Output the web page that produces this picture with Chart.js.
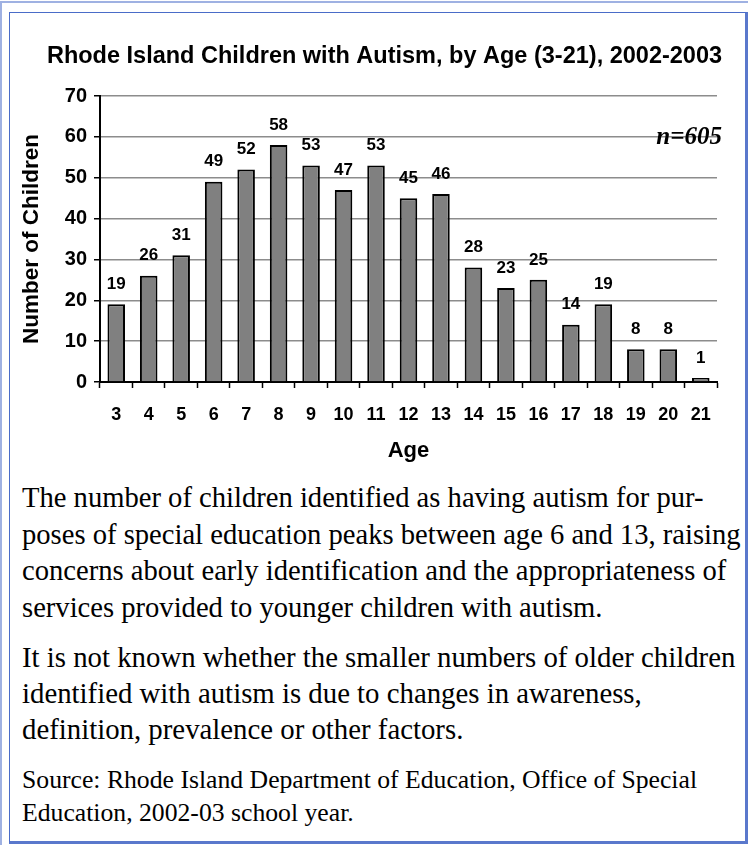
<!DOCTYPE html>
<html>
<head>
<meta charset="utf-8">
<script src="https://cdn.jsdelivr.net/npm/chart.js@4/dist/chart.umd.min.js"></script>
<style>
  html, body { margin: 0; padding: 0; background: #fff; overflow: hidden; }
  body { width: 752px; height: 846px; position: relative; }
  #outerFrame { position: absolute; left: 0; top: 1px; width: 746px; height: 842px;
    border-left: 2px solid #9fb1e2; border-top: 2px solid #9fb1e2; }
  #innerFrame { position: absolute; left: 9px; top: 12px; width: 735px; height: 828px;
    border: 1px solid #4a6cc8; border-right: 3px solid #5a78cc; border-bottom: 3px solid #5a78cc; }
  #chartBox { position: absolute; left: 0; top: 0; width: 752px; height: 470px; }
  .note { position: absolute; left: 22px; font-family: "Liberation Serif", serif; color: #000;
    white-space: nowrap; }
  #p1 { top: 480px; font-size: 28.6px; line-height: 36.5px; }
  #p2 { top: 639px; font-size: 28.8px; line-height: 36px; }
  #src { top: 763px; font-size: 25.7px; line-height: 33px; }
</style>
</head>
<body>
<div id="outerFrame"></div>
<div id="innerFrame"></div>
<div id="chartBox"><canvas id="chart" width="752" height="470"></canvas></div>
<div class="note" id="p1">The number of children identified as having autism for pur-<br>poses of special education peaks between age 6 and 13, raising<br>concerns about early identification and the appropriateness of<br>services provided to younger children with autism.</div>
<div class="note" id="p2">It is not known whether the smaller numbers of older children<br>identified with autism is due to changes in awareness,<br>definition, prevalence or other factors.</div>
<div class="note" id="src">Source: Rhode Island Department of Education, Office of Special<br>Education, 2002-03 school year.</div>
<script>
// Children with autism by age, Rhode Island special education, 2002-03
const ages = ['3','4','5','6','7','8','9','10','11','12','13','14','15','16','17','18','19','20','21'];
const children = [19, 26, 31, 49, 52, 58, 53, 47, 53, 45, 46, 28, 23, 25, 14, 19, 8, 8, 1];
const chartTitle = 'Rhode Island Children with Autism, by Age (3-21), 2002-2003';
const totalNote = 'n=605';
const yMax = 70;
const yStep = 10;

const sansBold = (size) => ({ family: "'Liberation Sans', Arial, sans-serif", size: size, weight: 'bold' });

// Heading centred over the panel
const headingPlugin = {
  id: 'heading',
  afterDraw(chart) {
    const ctx = chart.ctx;
    ctx.save();
    ctx.fillStyle = '#000';
    ctx.font = "bold 23.5px 'Liberation Sans', Arial, sans-serif";
    ctx.textAlign = 'center';
    ctx.textBaseline = 'middle';
    ctx.fillText(chartTitle, 384.5, 57);
    ctx.restore();
  }
};

// Count printed above each bar, plus the total in the corner
const valueLabels = {
  id: 'valueLabels',
  afterDatasetsDraw(chart) {
    const ctx = chart.ctx;
    const meta = chart.getDatasetMeta(0);
    ctx.save();
    ctx.fillStyle = '#000';
    ctx.font = "bold 17px 'Liberation Sans', Arial, sans-serif";
    ctx.textAlign = 'center';
    ctx.textBaseline = 'middle';
    meta.data.forEach((bar, i) => {
      ctx.fillText(String(chart.data.datasets[0].data[i]), bar.x, bar.y - 20);
    });
    const y60 = chart.scales.y.getPixelForValue(60);
    ctx.font = "italic bold 25px 'Liberation Serif', serif";
    ctx.textAlign = 'right';
    ctx.fillText(totalNote, chart.chartArea.right + 5, y60 + 1);
    ctx.restore();
  }
};

new Chart(document.getElementById('chart'), {
  type: 'bar',
  data: {
    labels: ages,
    datasets: [{
      data: children,
      backgroundColor: '#808080',
      borderColor: '#000',
      borderWidth: 2,
      categoryPercentage: 1,
      barPercentage: 0.54
    }]
  },
  options: {
    responsive: false,
    animation: false,
    events: [],
    layout: { padding: { top: 96, left: 0, right: 35, bottom: 6 } },
    plugins: {
      legend: { display: false },
      tooltip: { enabled: false },
      title: { display: false }
    },
    scales: {
      x: {
        grid: { display: true, drawOnChartArea: false, drawTicks: true, tickLength: 6,
                tickColor: '#000', tickWidth: 1.5, offset: true },
        border: { display: true, color: '#000', width: 2 },
        ticks: { color: '#000', font: sansBold(18), padding: 16, maxRotation: 0, autoSkip: false },
        title: { display: true, text: 'Age', color: '#000', font: sansBold(22), padding: { top: 0, bottom: 0 } },
        afterFit(scale) { scale.height = 82; }
      },
      y: {
        min: 0,
        max: yMax,
        ticks: { stepSize: yStep, color: '#000', font: sansBold(20), padding: 7 },
        grid: { color: '#8c8c8c', lineWidth: 1.5, tickColor: '#000', tickLength: 6, tickWidth: 1.5 },
        border: { display: true, color: '#000', width: 2 },
        title: { display: true, text: 'Number of Children', color: '#000', font: sansBold(22.5),
                 padding: { top: 18, bottom: 0 } },
        afterFit(scale) { scale.width = 100; }
      }
    }
  },
  plugins: [headingPlugin, valueLabels]
});
</script>
</body>
</html>
